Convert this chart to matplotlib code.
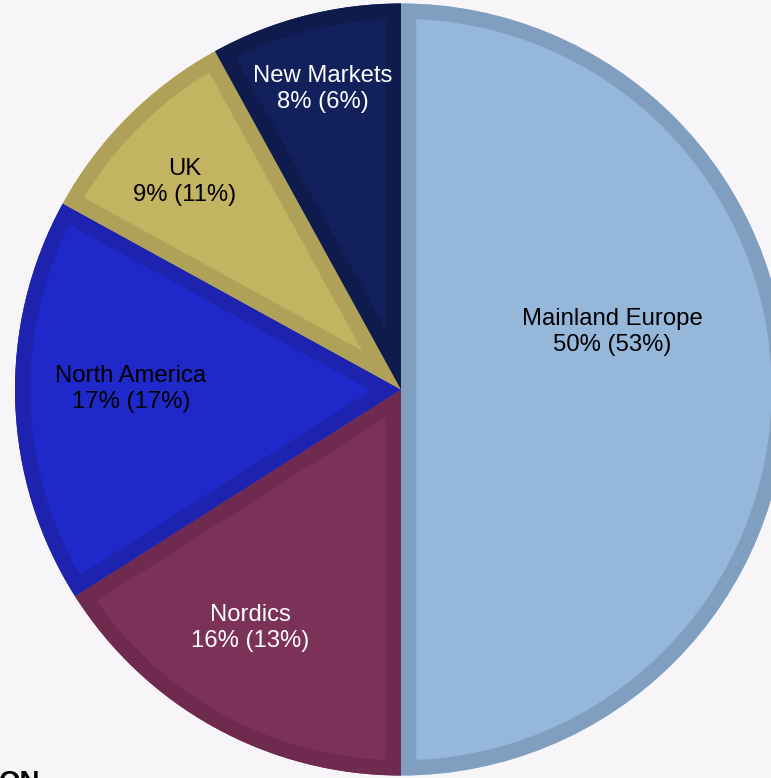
import matplotlib.pyplot as plt
from matplotlib.patches import Wedge

# regional split, labels show share (prior year share)
regions = ["Mainland Europe", "Nordics", "North America", "UK", "New Markets"]
shares = [50, 16, 17, 9, 8]
prior = [53, 13, 17, 11, 6]

fills = ["#95B7D9", "#7B3158", "#1F28C8", "#C3B461", "#12205B"]
borders = ["#809FC0", "#6E2B4F", "#1D23AE", "#AFA157", "#0F1B4D"]
text_colors = ["black", "white", "black", "black", "white"]
# label positions in pixels from the top-left corner
label_xy = [(612, 332), (250, 628), (131, 389), (185, 182), (323, 89)]

W, H = 771, 778
bg = "#F7F5F7"
cx, cy, r = 401, H - 389.5, 386

fig = plt.figure(figsize=(W / 100, H / 100), dpi=100, facecolor=bg)
ax = fig.add_axes([0, 0, 1, 1])
ax.set_facecolor(bg)

wedges, _ = ax.pie(
    shares,
    colors=fills,
    startangle=90,
    counterclock=False,
    center=(cx, cy),
    radius=r,
    frame=True,
    wedgeprops=dict(linewidth=0),
)
ax.set_xlim(0, W)
ax.set_ylim(0, H)
ax.set_aspect("auto")
ax.axis("off")

# darker inner border: a thick outline clipped to the wedge itself
for w, ec in zip(wedges, borders):
    edge = Wedge(w.center, w.r, w.theta1, w.theta2, facecolor="none",
                 edgecolor=ec, linewidth=22, joinstyle="miter")
    ax.add_patch(edge)
    edge.set_clip_path(w)

for name, s, p, (x, y), tc in zip(regions, shares, prior, label_xy, text_colors):
    ax.text(x, H - y, f"{name}\n{s}% ({p}%)", ha="center", va="center",
            fontsize=17.2, color=tc, family="Liberation Sans",
            linespacing=1.25)

ax.text(-1, H - 770, "ON", ha="left", va="top", fontsize=20, fontweight="bold",
        family="Liberation Sans", color="black")

fig.savefig("out.png", dpi=100, facecolor=bg)
